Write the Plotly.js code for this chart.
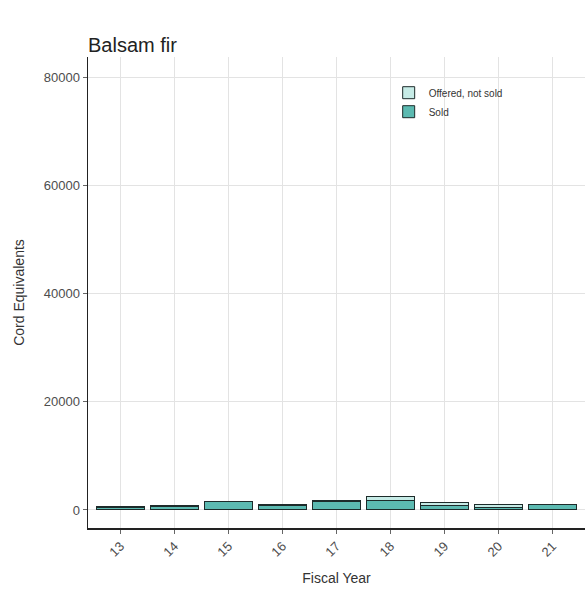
<!DOCTYPE html>
<html>
<head>
<meta charset="utf-8">
<script src="https://cdn.plot.ly/plotly-3.0.1.min.js"></script>
<style>html,body{margin:0;padding:0;background:#fff;}#chart{width:585px;height:594px;}</style>
</head>
<body>
<div id="chart"></div>
<script>
const years = ["13","14","15","16","17","18","19","20","21"];
const sold = [450, 650, 1500, 850, 1600, 1800, 800, 500, 950];
const offeredNotSold = [150, 150, 50, 250, 200, 700, 650, 600, 50];
const yTicks = [0, 20000, 40000, 60000, 80000];

const traces = [
  {type:"bar", name:"Sold", x:years, y:sold, marker:{color:"#5cbab1", line:{color:"#1d2b2a", width:1}}, width:0.9},
  {type:"bar", name:"Offered, not sold", x:years, y:offeredNotSold, marker:{color:"#c6ebe6", line:{color:"#1d2b2a", width:1}}, width:0.9}
];

const layout = {
  width:585, height:594,
  margin:{l:88, r:0, t:57, b:66},
  paper_bgcolor:"#fff", plot_bgcolor:"#fff",
  barmode:"stack",
  bargap:0.1,
  font:{family:"Liberation Sans, Arial, sans-serif", color:"#333"},
  title:{text:"Balsam fir", x:0, xref:"paper", xanchor:"left", y:0.925, yanchor:"middle", font:{size:20, color:"#222"}},
  xaxis:{
    type:"category", range:[-0.6, 8.6],
    tickangle:-45, tickfont:{size:13, color:"#4d4d4d"},
    showgrid:true, gridcolor:"#e3e3e3", gridwidth:1,
    showline:true, linecolor:"#222", linewidth:1.5,
    ticks:"outside", ticklen:4, tickcolor:"#666",
    title:{text:"Fiscal Year", font:{size:14, color:"#333"}, standoff:14}
  },
  yaxis:{
    range:[-3330, 83700], tickvals:yTicks, ticktext:yTicks.map(String),
    tickfont:{size:13, color:"#4d4d4d"},
    showgrid:true, gridcolor:"#e3e3e3", gridwidth:1, zeroline:false,
    showline:true, linecolor:"#222", linewidth:1.5,
    ticks:"outside", ticklen:4, tickcolor:"#666",
    title:{text:"Cord Equivalents", font:{size:14, color:"#333"}, standoff:16}
  },
  legend:{x:0.605, y:0.955, xanchor:"left", yanchor:"top", traceorder:"reversed",
    font:{size:10, color:"#333"}, bgcolor:"rgba(255,255,255,0)", itemwidth:30, tracegroupgap:0}
};

Plotly.newPlot("chart", traces, layout, {displayModeBar:false, staticPlot:true});
</script>
</body>
</html>
